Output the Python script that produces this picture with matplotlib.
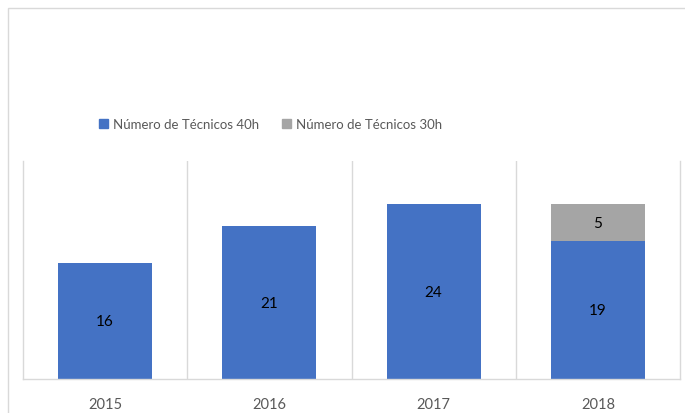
import matplotlib.pyplot as plt
from matplotlib.patches import Rectangle, Patch

years = ["2015", "2016", "2017", "2018"]
tec_40h = [16, 21, 24, 19]
tec_30h = [0, 0, 0, 5]
series_names = ["Número de Técnicos 40h", "Número de Técnicos 30h"]

blue = "#4472C4"
grey = "#A5A5A5"
line_col = "#D9D9D9"
txt_col = "#595959"

plt.rcParams["font.family"] = ["Lato", "DejaVu Sans"]

fig = plt.figure(figsize=(6.85, 4.14), dpi=100)
ax = fig.add_axes([23 / 685, 34 / 414, 657 / 685, 218.3 / 414])

x = list(range(len(years)))
w = 0.572
b1 = ax.bar(x, tec_40h, width=w, color=blue, zorder=2)
b2 = ax.bar(x, tec_30h, width=w, bottom=tec_40h, color=grey, zorder=2)

for i in x:
    ax.text(i, tec_40h[i] / 2, str(tec_40h[i]), ha="center", va="center",
            fontsize=11, color="#000000")
    if tec_30h[i] > 0:
        ax.text(i, tec_40h[i] + tec_30h[i] / 2, str(tec_30h[i]), ha="center",
                va="center", fontsize=11, color="#000000")

ax.set_xlim(-0.5, len(years) - 0.5)
ax.set_ylim(0, 30)
ax.set_yticks([])
ax.set_xticks(x)
ax.set_xticklabels(years, fontsize=10.5, color=txt_col)
ax.tick_params(axis="x", length=0, pad=13)

# vertical separators between categories
for b in [0.5, 1.5, 2.5]:
    ax.axvline(b, color=line_col, lw=1, zorder=1)
for s in ["left", "right", "bottom"]:
    ax.spines[s].set_color(line_col)
    ax.spines[s].set_linewidth(1)
ax.spines["top"].set_visible(False)

handles = [Patch(color=blue), Patch(color=grey)]
fig.legend(handles, series_names, loc="center", bbox_to_anchor=(0.395, 1 - 125 / 414),
           ncol=2, frameon=False, fontsize=9.5, handlelength=0.7, handleheight=0.7,
           handletextpad=0.4, columnspacing=1.7, labelcolor=txt_col)

# outer chart border
fig.patches.append(Rectangle((8 / 685, -0.1), 1.0, 1.1 - 9 / 414, transform=fig.transFigure,
                             fill=False, edgecolor=line_col, lw=1, clip_on=False))

fig.savefig("out.png", dpi=100)
